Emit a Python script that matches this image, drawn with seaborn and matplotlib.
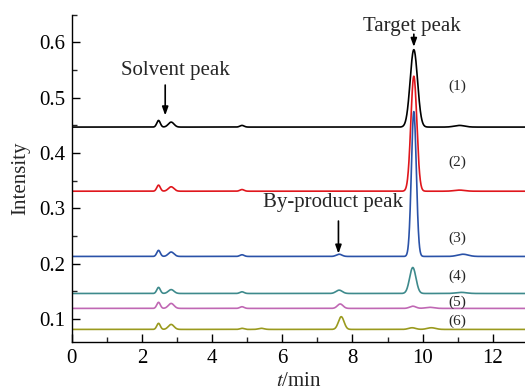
import numpy as np
import pandas as pd
import matplotlib
matplotlib.use("Agg")
import matplotlib.pyplot as plt
import seaborn as sns
from matplotlib.ticker import MultipleLocator

# Trace labels, colours and baselines
trace_labels = ["(1)", "(2)", "(3)", "(4)", "(5)", "(6)"]
trace_colors = ["#000000", "#e0161c", "#2a52a8", "#3e8a8c", "#c068b4", "#9a9a1e"]
baselines = [0.447, 0.331, 0.213, 0.146, 0.119, 0.081]

# Peaks per trace: (retention time [min], height above baseline, width sigma [min])
peaks_1 = [(2.47, 0.012, 0.05), (2.83, 0.009, 0.08), (4.85, 0.003, 0.06), (9.75, 0.140, 0.105), (11.05, 0.003, 0.15)]
peaks_2 = [(2.47, 0.011, 0.05), (2.83, 0.008, 0.08), (4.85, 0.003, 0.06), (9.75, 0.208, 0.085), (11.05, 0.002, 0.15)]
peaks_3 = [(2.47, 0.011, 0.05), (2.83, 0.008, 0.08), (4.85, 0.003, 0.06), (7.62, 0.004, 0.08), (9.75, 0.262, 0.07), (11.15, 0.004, 0.15)]
peaks_4 = [(2.47, 0.011, 0.05), (2.83, 0.007, 0.08), (4.85, 0.003, 0.06), (7.62, 0.006, 0.09), (9.72, 0.047, 0.09), (11.1, 0.002, 0.15)]
peaks_5 = [(2.47, 0.011, 0.05), (2.83, 0.009, 0.08), (4.85, 0.003, 0.06), (7.65, 0.008, 0.08), (9.72, 0.004, 0.09), (10.2, 0.002, 0.12)]
peaks_6 = [(2.47, 0.011, 0.05), (2.83, 0.009, 0.08), (4.85, 0.002, 0.06), (5.4, 0.002, 0.08), (7.68, 0.023, 0.08), (9.7, 0.003, 0.1), (10.25, 0.003, 0.12)]
all_peaks = [peaks_1, peaks_2, peaks_3, peaks_4, peaks_5, peaks_6]

# Label positions for (1)..(6)
label_x = [11.0, 11.0, 11.0, 11.0, 11.0, 11.0]
label_y = [0.520, 0.383, 0.245, 0.178, 0.131, 0.095]

t = np.linspace(0, 13, 2601)
frames = []
for lab, base, pk in zip(trace_labels, baselines, all_peaks):
    y = np.full_like(t, base)
    for (mu, h, s) in pk:
        y = y + h * np.exp(-0.5 * ((t - mu) / s) ** 2)
    frames.append(pd.DataFrame({"t": t, "I": y, "trace": lab}))
df = pd.concat(frames, ignore_index=True)

sns.set_style("ticks")
plt.rcParams["font.family"] = ["Liberation Serif", "DejaVu Serif"]
plt.rcParams["mathtext.fontset"] = "stix"

fig = plt.figure(figsize=(5.25, 3.91), dpi=100)
ax = fig.add_axes([0.137, 0.125, 0.865, 0.837])
sns.lineplot(data=df, x="t", y="I", hue="trace", palette=dict(zip(trace_labels, trace_colors)),
             estimator=None, legend=False, linewidth=1.2, ax=ax)

ax.set_xlim(0, 12.95)
ax.set_ylim(0.058, 0.65)
ax.xaxis.set_major_locator(MultipleLocator(2))
ax.xaxis.set_minor_locator(MultipleLocator(1))
ax.yaxis.set_major_locator(MultipleLocator(0.1))
ax.yaxis.set_minor_locator(MultipleLocator(0.05))
ax.tick_params(which="major", direction="in", length=6, width=1, labelsize=15, colors="black", pad=5)
ax.tick_params(which="minor", direction="in", length=3.5, width=1)
for s in ["top", "right"]:
    ax.spines[s].set_visible(False)
for s in ["left", "bottom"]:
    ax.spines[s].set_linewidth(1.0)
    ax.spines[s].set_color("black")

ax.set_xlabel(r"$\mathit{t}$/min", fontsize=15, labelpad=3)
ax.set_ylabel("Intensity", fontsize=15, labelpad=6)

for lab, lx, ly in zip(trace_labels, label_x, label_y):
    ax.text(lx, ly, lab, fontsize=11, ha="center", va="center")

arrow = dict(arrowstyle="-|>,head_length=0.5,head_width=0.18", color="black", lw=1.2,
             shrinkA=0, shrinkB=0)
ax.annotate("", xy=(9.75, 0.592), xytext=(9.75, 0.615), arrowprops=arrow)
ax.text(9.7, 0.629, "Target peak", fontsize=15, ha="center", va="center")
ax.annotate("", xy=(2.66, 0.468), xytext=(2.66, 0.523), arrowprops=arrow)
ax.text(2.95, 0.55, "Solvent peak", fontsize=15, ha="center", va="center")
ax.annotate("", xy=(7.6, 0.218), xytext=(7.6, 0.277), arrowprops=arrow)
ax.text(7.45, 0.31, "By-product peak", fontsize=15, ha="center", va="center")

fig.savefig("out.png", dpi=100)
